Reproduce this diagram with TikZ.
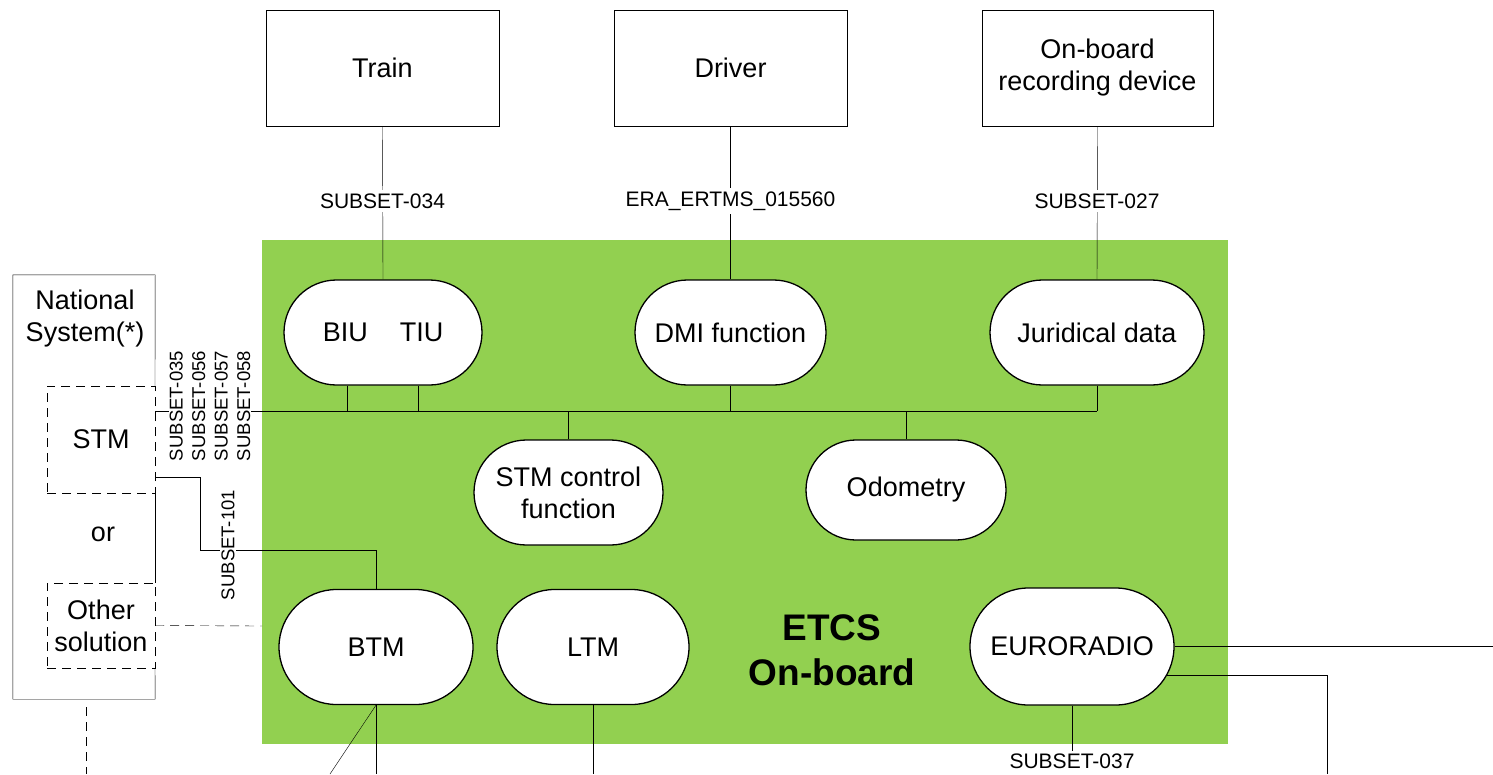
\documentclass[tikz,border=0pt]{standalone}
\usepackage{fontspec}
\setmainfont{Liberation Sans}
\usetikzlibrary{shapes.misc,calc}
\definecolor{etcsgreen}{HTML}{92D050}
\pgfdeclarelayer{back}
\pgfdeclarelayer{mid}
\pgfsetlayers{back,mid,main}
\begin{document}
\begin{tikzpicture}[x=1pt,y=-1pt,line width=1.7pt,
  box/.style={draw, rectangle, minimum width=233pt, minimum height=116pt, align=center, inner sep=0pt, font=\fontsize{27}{32}\selectfont},
  func/.style={draw, fill=white, rounded rectangle, align=center, inner sep=0pt, line width=1.3pt, font=\fontsize{27}{32}\selectfont},
  plain/.style={align=center, inner sep=0pt, font=\fontsize{27}{32}\selectfont},
  dbox/.style={draw, dashed, dash pattern=on 9pt off 6pt, rectangle, fill=white, align=center, inner sep=0pt, font=\fontsize{27}{32}\selectfont},
  lab/.style={fill=white, inner sep=4pt, font=\fontsize{21}{22}\selectfont},
  rlab/.style={fill=white, inner sep=1pt, rotate=90, align=center, font=\fontsize{18.5}{22.5}\selectfont},
  dline/.style={dash pattern=on 9pt off 6pt}
]
\useasboundingbox (0,0) rectangle (1493,774);
\begin{pgfonlayer}{back}
  \fill[etcsgreen] (262,240) rectangle (1228,744);
\end{pgfonlayer}

% top boxes
\node[box] (train) at (382.5,68) {Train};
\node[box] (driver) at (730.5,68) {Driver};
\node[box, minimum width=231pt] (rec) at (1097.5,68) {On-board\\recording device};

% functions
\node[func, minimum width=198pt, minimum height=105pt] (biu) at (383,332.5) {BIU\hspace{32pt}TIU};
\node[func, minimum width=191pt, minimum height=105pt] (dmi) at (730.5,332.5) {DMI function};
\node[func, minimum width=214pt, minimum height=105pt] (jur) at (1097,332.5) {Juridical data};
\node[func, minimum width=189pt, minimum height=105pt] (stmc) at (568.5,492.5) {STM control\\function};
\node[func, minimum width=200pt, minimum height=100pt] (odo) at (906,490) {Odometry};
\node[func, minimum width=194pt, minimum height=115pt] (btm) at (376,647) {BTM};
\node[func, minimum width=192pt, minimum height=115pt] (ltm) at (593,647) {LTM};
\node[func, minimum width=204pt, minimum height=117pt] (euro) at (1072,646.5) {EURORADIO};

\node[font=\bfseries\fontsize{37}{45}\selectfont, align=center, inner sep=0pt] (etcs) at (832,650) {ETCS\\On-board};

% national system
\node[minimum width=142pt, minimum height=424pt, inner sep=0pt] (nat) at (84,487) {};
\node[plain] (natlab) at (85,319) {National\\System(*)};
\node[dbox, minimum width=108pt, minimum height=107pt] (stm) at (101,439.5) {STM};
\node[plain] (or) at (103,534) {or};
\node[dbox, minimum width=108pt, minimum height=85pt] (other) at (101,625.5) {Other\\solution};

% labels
\node[lab] (l034) at (382.5,201) {SUBSET-034};
\node[lab] (l015) at (730.5,201) {ERA\_ERTMS\_015560};
\node[lab] (l027) at (1097,201) {SUBSET-027};
\node[lab, inner sep=2pt] (l037) at (1072,761) {SUBSET-037};
\node[rlab] (lstm) at (210,406) {SUBSET-035\\SUBSET-056\\SUBSET-057\\SUBSET-058};
\node[rlab] (l101) at (228,545) {SUBSET-101};

\coordinate (busL) at (155,411);
\coordinate (busR) at (1097,411);
\coordinate (greenL) at (262,626);
\coordinate (natdash) at (86,707);
\coordinate (natend) at (86,774);
\coordinate (btmdiag) at (330,774);
\coordinate (btmend) at (376,774);
\coordinate (ltmend) at (593,774);
\coordinate (rightend) at (1493,646.5);
\coordinate (rightdown) at (1327,774);
\coordinate (s101a) at (155,477);
\coordinate (s101b) at (200,477);
\coordinate (s101c) at (200,550);

\begin{pgfonlayer}{mid}
  \draw (train.south) -- (biu.north);
  \draw (driver.south) -- (dmi.north);
  \draw (rec.south) -- (jur.north);
  \draw (busL) -- (busR);
  \draw ([xshift=-36pt]biu.south) -- ([xshift=-36pt]biu.south |- busL);
  \draw ([xshift=35pt]biu.south) -- ([xshift=35pt]biu.south |- busL);
  \draw (dmi.south) -- (dmi.south |- busL);
  \draw (jur.south) -- (jur.south |- busL);
  \draw (stmc.north) -- (stmc.north |- busL);
  \draw (odo.north) -- (odo.north |- busL);
  \draw (s101a) -- (s101b) -- (s101c) -| (btm.north);
  \draw[dline] (other.east) -- (greenL);
  \draw (btm.south) -- (btmend);
  \draw (btm.south) -- (btmdiag);
  \draw (ltm.south) -- (ltmend);
  \draw (euro.east) -- (rightend);
  \draw (euro.-17) -| (rightdown);
  \draw (euro.south) -- (l037.north);
  \draw[dline] (natdash) -- (natend);
  \draw (155,386) -- (nat.north east) -- (nat.north west) -- (nat.south west) -- (nat.south east) -- (155,668);
  \draw (155,493) -- (155,583);
\end{pgfonlayer}
\end{tikzpicture}
\end{document}
